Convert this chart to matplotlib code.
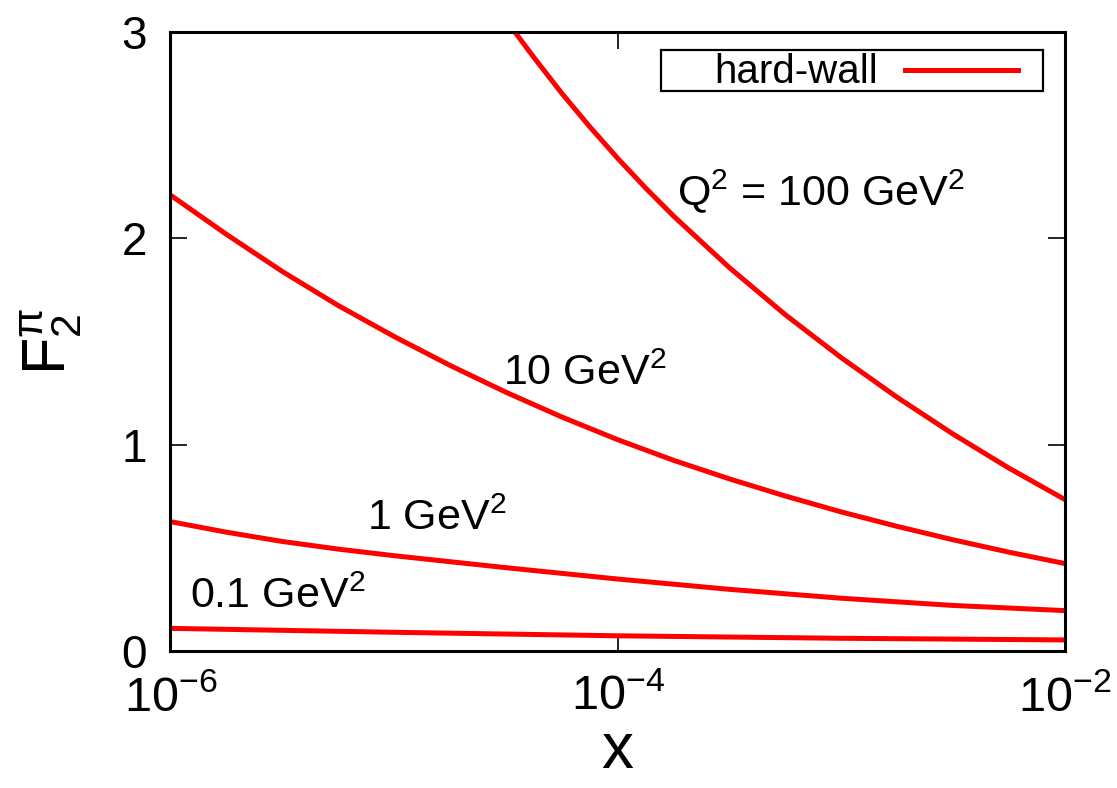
import matplotlib
matplotlib.use("Agg")
import matplotlib.pyplot as plt
import matplotlib.ticker as mticker
from matplotlib.patches import Rectangle
from matplotlib.lines import Line2D
import numpy as np

plt.rcParams['font.family'] = ['Liberation Sans', 'DejaVu Sans']
plt.rcParams['mathtext.fontset'] = 'custom'
plt.rcParams['mathtext.rm'] = 'Liberation Sans'
plt.rcParams['mathtext.it'] = 'Liberation Sans'
plt.rcParams['mathtext.sf'] = 'Liberation Sans'

# F2 of the pion, hard-wall model (log10 x, F2)
logx_100 = [-4.46, -4.375, -4.25, -4.125, -4.0, -3.875, -3.75, -3.5, -3.25,
            -3.0, -2.75, -2.5, -2.25, -2.0]
f2_100 = [3.0, 2.877, 2.703, 2.541, 2.388, 2.244, 2.108, 1.858, 1.630,
          1.422, 1.230, 1.052, 0.887, 0.735]

logx_10 = [-6.0, -5.75, -5.5, -5.25, -5.0, -4.75, -4.5, -4.25, -4.0,
           -3.75, -3.5, -3.25, -3.0, -2.75, -2.5, -2.25, -2.0]
f2_10 = [2.21, 2.02, 1.84, 1.675, 1.525, 1.385, 1.255, 1.135, 1.025,
         0.925, 0.835, 0.752, 0.675, 0.605, 0.540, 0.480, 0.425]

logx_1 = [-6.0, -5.75, -5.5, -5.25, -5.0, -4.5, -4.0, -3.5, -3.0, -2.5, -2.0]
f2_1 = [0.628, 0.577, 0.532, 0.495, 0.463, 0.405, 0.350, 0.300, 0.257, 0.222, 0.197]

logx_01 = [-6.0, -5.0, -4.0, -3.0, -2.0]
f2_01 = [0.111, 0.092, 0.075, 0.063, 0.055]

xticks = [1e-6, 1e-4, 1e-2]
yticks = [0, 1, 2, 3]

# curve labels: (text, x, y)
labels = [
    (r"Q$^2$ = 100 GeV$^2$", 1.84e-4, 2.16),
    (r"10 GeV$^2$", 3.07e-5, 1.29),
    (r"1 GeV$^2$", 7.6e-6, 0.588),
    (r"0.1 GeV$^2$", 1.22e-6, 0.21),
]

fig = plt.figure(figsize=(11.17, 7.88), dpi=100)
ax = fig.add_axes([0.1526, 0.1735, 0.8008, 0.7859])

red = '#ff0000'
lw = 3.6
ax.plot(10 ** np.array(logx_100), f2_100, color=red, lw=lw)
ax.plot(10 ** np.array(logx_10), f2_10, color=red, lw=lw)
ax.plot(10 ** np.array(logx_1), f2_1, color=red, lw=lw)
ax.plot(10 ** np.array(logx_01), f2_01, color=red, lw=lw)

ax.set_xscale('log')
ax.set_xlim(1e-6, 1e-2)
ax.set_ylim(0, 3)

ax.xaxis.set_major_locator(mticker.FixedLocator(xticks))
ax.xaxis.set_minor_locator(mticker.NullLocator())
ax.xaxis.set_major_formatter(mticker.FuncFormatter(
    lambda v, p: r"$10^{%d}$" % int(round(np.log10(v)))))
ax.set_yticks(yticks)
ax.yaxis.set_major_formatter(mticker.FuncFormatter(lambda v, p: "%d" % v))

ax.tick_params(axis='both', which='major', direction='in', top=True, right=True,
               length=12, width=1.2, color='black')
ax.tick_params(axis='x', labelsize=35, pad=17)
ax.tick_params(axis='y', labelsize=33, pad=17)
for s in ax.spines.values():
    s.set_linewidth(2.2)

ax.set_xlabel('x', fontsize=46, labelpad=0)
ax.set_ylabel(r"F$_2^{\pi}$", fontsize=44, labelpad=26)

for txt, xx, yy in labels:
    ax.text(xx, yy, txt, fontsize=31, ha='left', va='baseline')

# gnuplot-style key: text, then line sample, inside a box
ax.add_patch(Rectangle((0.5484, 0.9047), 0.4270, 0.0662, transform=ax.transAxes,
                       facecolor='white', edgecolor='black', lw=1.6, zorder=5))
ax.text(0.791, 0.9177, 'hard-wall', transform=ax.transAxes, fontsize=29,
        ha='right', va='baseline', zorder=6)
ax.add_line(Line2D([0.8211, 0.9475], [0.9387, 0.9387], transform=ax.transAxes,
                   color=red, lw=lw, zorder=6))

fig.savefig('out.png', dpi=100)
